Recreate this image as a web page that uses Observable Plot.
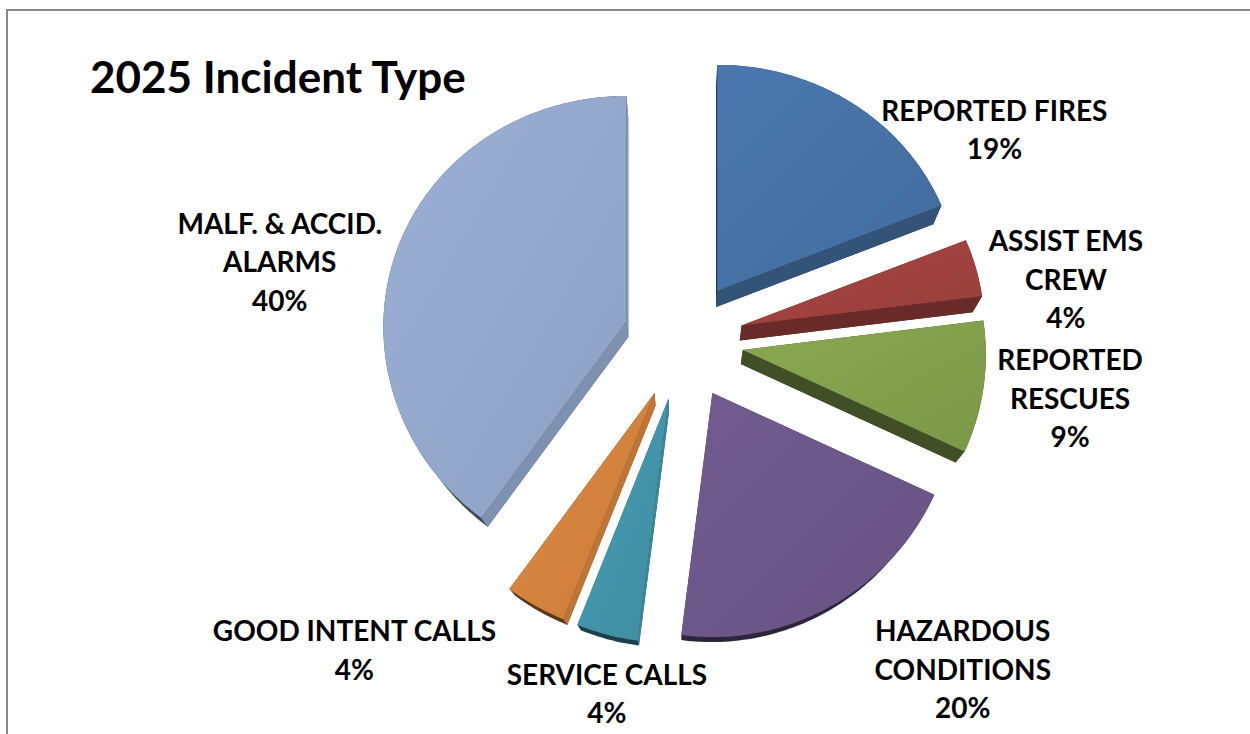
<!DOCTYPE html>
<html>
<head>
<meta charset="utf-8">
<script src="https://cdn.jsdelivr.net/npm/d3@7"></script>
<script src="https://cdn.jsdelivr.net/npm/@observablehq/plot@0.6"></script>
<style>
  body { margin: 0; background: #fff; }
  #wrap { position: relative; width: 1250px; height: 734px; overflow: hidden; background: #fff; }
  #frame { position: absolute; left: 6px; top: 9px; width: 1400px; height: 900px; border: 2px solid #888; box-sizing: border-box; }
  #chart { position: absolute; left: 0; top: 0; }
  #title { position: absolute; left: 90px; top: 54px; font: bold 44px Lato, "Open Sans", sans-serif; line-height: 44px; color: #000; white-space: nowrap; }
</style>
</head>
<body>
<div id="wrap"><div id="frame"></div><div id="chart"></div><div id="title">2025 Incident Type</div></div>
<script>
// ---- data ----
const categories = ["REPORTED FIRES", "ASSIST EMS\nCREW", "REPORTED\nRESCUES", "HAZARDOUS\nCONDITIONS", "SERVICE CALLS", "GOOD INTENT CALLS", "MALF. & ACCID.\nALARMS"];
const percents = [19, 4, 9, 20, 4, 4, 40];
const sliceColors = ["#4672A6", "#A0423F", "#83A04C", "#6C5789", "#4395AB", "#D4823E", "#94A8CC"];

// ---- layout ----
const W = 1250, H = 734;
const CX = 683, CY = 340, RX = 243, RX_TILT = 5, RY = 235, RY_TILT = 9, EXPLODE = 60;
const VP = [683, 792], DEPTH_K = 0.032;
const FONT = "Lato, 'Open Sans', sans-serif";
const LABEL_SIZE = 28, LINE_H = 38.5, CAP_H = 20, DROP = 12, TOP_LIMIT = 100, PAD = 10, PUSH_GAP = 30;

const arcs = d3.pie().sort(null).value(d => d)(percents);
function shade(c, f) { const r = d3.rgb(c); return d3.rgb(r.r * f, r.g * f, r.b * f).formatHex(); }

const slices = arcs.map((a, i) => {
  const mid = (a.startAngle + a.endAngle) / 2;
  const apex = [CX + EXPLODE * Math.sin(mid), CY - EXPLODE * Math.cos(mid)];
  const pt = t => [apex[0] + (RX - RX_TILT * Math.cos(t)) * Math.sin(t), apex[1] - (RY - RY_TILT * Math.cos(t)) * Math.cos(t)];
  const n = Math.max(4, Math.ceil((a.endAngle - a.startAngle) / 0.02));
  const arc = d3.range(n + 1).map(k => pt(a.startAngle + (a.endAngle - a.startAngle) * k / n));
  const top = [apex, ...arc];
  const down = p => [p[0] + DEPTH_K * (VP[0] - p[0]), p[1] + DEPTH_K * (VP[1] - p[1])];
  const hull = d3.polygonHull([...top, ...top.map(down)]);
  const faces = [];
  for (const [p, q] of [[apex, arc[0]], [arc[n], apex]]) {
    const dx = q[0] - p[0], dy = q[1] - p[1], len = Math.hypot(dx, dy);
    const nx = dy / len, ny = -dx / len;
    const dp = down(p);
    if (nx * (dp[0] - p[0]) + ny * (dp[1] - p[1]) > 0) {
      faces.push({poly: [p, q, down(q), dp], f: Math.min(0.92, Math.max(0.45, 0.62 + 0.3 * nx))});
    }
  }
  return {i, mid, apex, pt, top, hull, faces};
});

const hullRows = slices.flatMap(s => s.hull.map(([x, y]) => ({id: "h" + s.i, x, y, fill: shade(sliceColors[s.i], 0.42)})));
const faceRows = slices.flatMap(s => s.faces.flatMap((f, j) => f.poly.map(([x, y]) => ({id: `f${s.i}-${j}`, x, y, fill: shade(sliceColors[s.i], f.f)}))));
const topRows = slices.flatMap(s => s.top.map(([x, y]) => ({id: "t" + s.i, x, y, fill: `url(#grad${s.i})`})));

// ---- label placement (outside end, with simple collision avoidance) ----
const ctx = document.createElement("canvas").getContext("2d");
ctx.font = `bold ${LABEL_SIZE}px Lato`;
const placed = [];
const labels = slices.map(s => {
  const text = categories[s.i] + "\n" + percents[s.i] + "%";
  const lines = text.split("\n");
  const hw = d3.max(lines, l => ctx.measureText(l).width) / 2;
  const hh = ((lines.length - 1) * LINE_H + CAP_H) / 2;
  const ux = Math.sin(s.mid), uy = -Math.cos(s.mid);
  const P = s.pt(s.mid);
  const sx = Math.sign(ux) * Math.min(1, Math.max(0, (Math.abs(ux) - 0.25) * 4));
  const sy = Math.sign(uy) * Math.min(1, Math.max(0, (Math.abs(uy) - 0.35) * 2.5));
  const gx = 5 + 30 * Math.abs(uy) + 25 * Math.max(0, uy);
  const gy = 2 + 16 * (1 - Math.abs(sx));
  let x = P[0] + sx * (hw + gx);
  let y = P[1] + DROP + sy * (hh + gy);
  if (y - hh < TOP_LIMIT) y = TOP_LIMIT + hh;
  for (let guard = 0; guard < 20; guard++) {
    let moved = false;
    for (const b of placed) {
      if (x - hw < b.x + b.hw + PAD && x + hw > b.x - b.hw - PAD && y - hh < b.y + b.hh + PAD && y + hh > b.y - b.hh - PAD) {
        x = ux < 0 ? b.x - b.hw - PUSH_GAP - hw : b.x + b.hw + PUSH_GAP + hw;
        moved = true;
      }
    }
    if (!moved) break;
  }
  // first baseline sits CAP_H below the box top; Plot's "top" anchor puts it 0.71 line-heights down
  const ty = y - hh + CAP_H - 0.71 * LINE_H;
  const L = {x, y, ty, hw, hh, text};
  placed.push(L);
  return L;
});

// ---- gradients ----
const defs = d3.create("svg:defs");
sliceColors.forEach((c, i) => {
  const g = defs.append("linearGradient").attr("id", "grad" + i).attr("x1", 0).attr("y1", 0).attr("x2", 1).attr("y2", 1);
  g.append("stop").attr("offset", "0%").attr("stop-color", shade(c, 1.05));
  g.append("stop").attr("offset", "100%").attr("stop-color", shade(c, 0.95));
});

const poly = rows => Plot.line(rows, {x: "x", y: "y", z: "id", fill: "fill", stroke: "none", curve: "linear-closed"});

const chart = Plot.plot({
  width: W, height: H, margin: 0,
  x: {domain: [0, W], range: [0, W], axis: null},
  y: {domain: [0, H], range: [0, H], axis: null},
  color: {type: "identity"},
  style: {background: "transparent", overflow: "visible"},
  marks: [
    () => defs.node(),
    poly(hullRows),
    poly(faceRows),
    poly(topRows),
    Plot.text(labels, {
      x: "x", y: "ty", text: "text",
      fontSize: LABEL_SIZE, fontFamily: FONT, fontWeight: "bold",
      lineHeight: LINE_H / LABEL_SIZE, lineAnchor: "top", textAnchor: "middle", fill: "#000"
    })
  ]
});
document.getElementById("chart").appendChild(chart);
</script>
</body>
</html>
